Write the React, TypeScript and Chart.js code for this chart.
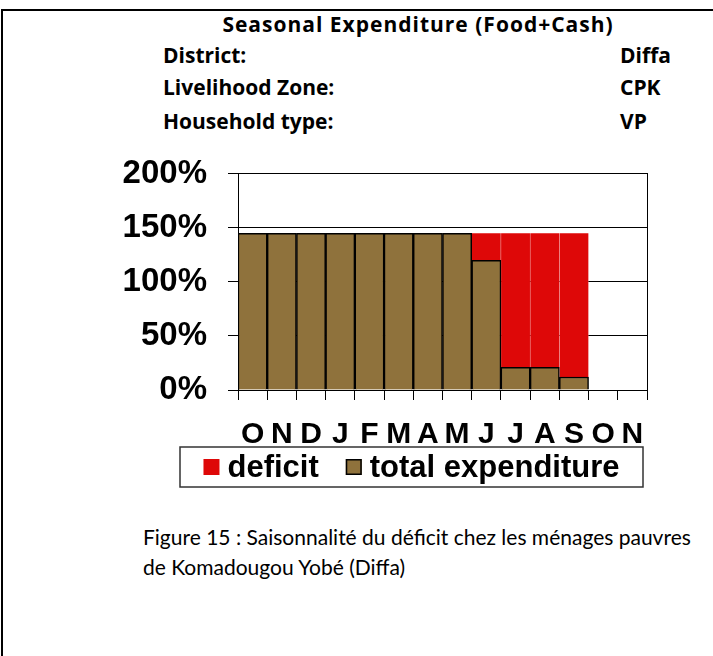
import React, { useEffect, useRef } from 'react';
import { Chart, registerables } from 'chart.js';

Chart.register(...registerables);

const months = ['O', 'N', 'D', 'J', 'F', 'M', 'A', 'M', 'J', 'J', 'A', 'S', 'O', 'N'];
const totalExpenditure = [145, 145, 145, 145, 145, 145, 145, 145, 120, 21, 21, 12, null, null];
const deficit = [0, 0, 0, 0, 0, 0, 0, 0, 25, 124, 124, 133, null, null];
const yTicks = [0, 50, 100, 150, 200];
const seriesLabels = ['deficit', 'total expenditure'];

const headerTitle = 'Seasonal Expenditure (Food+Cash)';
const headerRows = [
  ['District:', 'Diffa'],
  ['Livelihood Zone:', 'CPK'],
  ['Household type:', 'VP'],
];
const captionLines = [
  'Figure 15 : Saisonnalité du déficit chez les ménages pauvres',
  'de Komadougou Yobé (Diffa)',
];

const ARIAL = '"Liberation Sans", Arial, sans-serif';
const BROWN = '#8f723c';
const RED = '#de0808';

const boxedLegend = {
  id: 'boxedLegend',
  afterDraw(chart: any) {
    const { ctx, chartArea } = chart;
    const left = chartArea.left - 58;
    const right = chartArea.right - 4;
    const top = chartArea.bottom + 57;
    const h = 40;
    ctx.save();
    ctx.strokeStyle = '#333';
    ctx.lineWidth = 1.5;
    ctx.strokeRect(left, top, right - left, h);
    ctx.font = 'bold 31px ' + ARIAL;
    const order = [1, 0];
    const sq = 16;
    const gap1 = 8;
    const gap2 = 27;
    const widths = order.map((i) => ctx.measureText(chart.data.datasets[i].label).width);
    const total =
      widths.reduce((a: number, b: number) => a + b, 0) +
      order.length * (sq + gap1) +
      gap2 * (order.length - 1);
    let x = (left + right) / 2 - total / 2;
    const cy = top + h / 2;
    order.forEach((i, k) => {
      const ds = chart.data.datasets[i];
      ctx.fillStyle = ds.backgroundColor;
      ctx.fillRect(x, cy - sq / 2, sq, sq);
      if (i === 0) {
        ctx.lineWidth = 1.5;
        ctx.strokeStyle = '#000';
        ctx.strokeRect(x + 0.75, cy - sq / 2 + 0.75, sq - 1.5, sq - 1.5);
      }
      x += sq + gap1;
      ctx.fillStyle = '#000';
      ctx.textBaseline = 'middle';
      ctx.textAlign = 'left';
      ctx.fillText(ds.label, x, cy + 1);
      x += widths[k] + gap2;
    });
    ctx.restore();
  },
};

function ExpenditureChart() {
  const ref = useRef<HTMLCanvasElement | null>(null);
  useEffect(() => {
    if (!ref.current) return;
    const chart = new Chart(ref.current, {
      type: 'bar',
      data: {
        labels: months,
        datasets: [
          {
            label: seriesLabels[1],
            data: totalExpenditure as any,
            backgroundColor: BROWN,
            borderColor: '#000',
            borderWidth: 1.5,
            categoryPercentage: 1,
            barPercentage: 1,
          },
          {
            label: seriesLabels[0],
            data: deficit as any,
            backgroundColor: RED,
            borderColor: 'rgba(255,255,255,0.35)',
            borderWidth: { left: 0.5, right: 0.5, top: 0, bottom: 0 },
            categoryPercentage: 1,
            barPercentage: 1,
          },
        ],
      },
      options: {
        animation: false,
        responsive: false,
        maintainAspectRatio: false,
        layout: { padding: { top: 6, bottom: 53, left: 0, right: 0 } },
        plugins: {
          legend: { display: false },
          tooltip: { enabled: false },
          title: { display: false },
        },
        scales: {
          x: {
            stacked: true,
            offset: true,
            grid: {
              display: true,
              drawOnChartArea: false,
              drawTicks: true,
              tickLength: 10,
              color: '#000',
              offset: true,
            },
            border: { display: true, color: '#000', width: 1 },
            ticks: {
              font: { family: ARIAL, size: 30, weight: 'bold' },
              color: '#000',
              padding: 17,
              maxRotation: 0,
              minRotation: 0,
              autoSkip: false,
            },
            afterFit: (s: any) => {
              s.height = 57;
            },
          },
          y: {
            stacked: true,
            min: 0,
            max: 200,
            afterBuildTicks: (s: any) => {
              s.ticks = yTicks.map((v) => ({ value: v }));
            },
            grid: { color: '#000', lineWidth: 1, tickLength: 10, drawTicks: true },
            border: { display: true, color: '#000', width: 1 },
            ticks: {
              callback: (v: any) => v + '%',
              font: { family: ARIAL, size: 33, weight: 'bold' },
              color: '#000',
              padding: 21,
            },
            afterFit: (s: any) => {
              s.width = 128;
            },
          },
          yRight: {
            position: 'right',
            display: true,
            grid: { display: false },
            ticks: { display: false },
            border: { display: true, color: '#000', width: 1 },
            afterFit: (s: any) => {
              s.width = 23;
            },
          },
        },
      } as any,
      plugins: [boxedLegend],
    });
    return () => chart.destroy();
  }, []);
  return (
    <canvas
      ref={ref}
      width={560}
      height={367}
      style={{ position: 'absolute', left: 110, top: 133, width: 560, height: 367, display: 'block' }}
    />
  );
}

export default function App() {
  const gill = 'Lato, "Open Sans", sans-serif';
  const head = '"Open Sans", Lato, sans-serif';
  const rowTops = [42, 74, 108];
  const headStyle: any = {
    position: 'absolute',
    fontFamily: head,
    fontWeight: 'bold',
    fontSize: 21,
    lineHeight: '26px',
    whiteSpace: 'nowrap',
  };
  return (
    <div
      style={{
        position: 'absolute',
        left: 0,
        top: 0,
        width: 713,
        height: 656,
        overflow: 'hidden',
        background: '#fff',
        fontFamily: gill,
      }}
    >
      <div
        style={{
          position: 'absolute',
          left: 1,
          top: 9,
          width: 720,
          height: 660,
          borderTop: '2px solid #000',
          borderLeft: '2px solid #000',
        }}
      />
      <div
        style={{
          ...headStyle,
          left: 168,
          top: 11,
          width: 500,
          textAlign: 'center',
          letterSpacing: '1px',
        }}
      >
        {headerTitle}
      </div>
      {headerRows.map((r, i) => (
        <React.Fragment key={i}>
          <div style={{ ...headStyle, left: 163, top: rowTops[i] }}>{r[0]}</div>
          <div style={{ ...headStyle, left: 620, top: rowTops[i] }}>{r[1]}</div>
        </React.Fragment>
      ))}
      <ExpenditureChart />
      {captionLines.map((t, i) => (
        <div
          key={i}
          style={{
            position: 'absolute',
            left: 143,
            top: 525 + i * 30,
            fontSize: 21,
            lineHeight: '24px',
            whiteSpace: 'nowrap',
          }}
        >
          {t}
        </div>
      ))}
    </div>
  );
}
